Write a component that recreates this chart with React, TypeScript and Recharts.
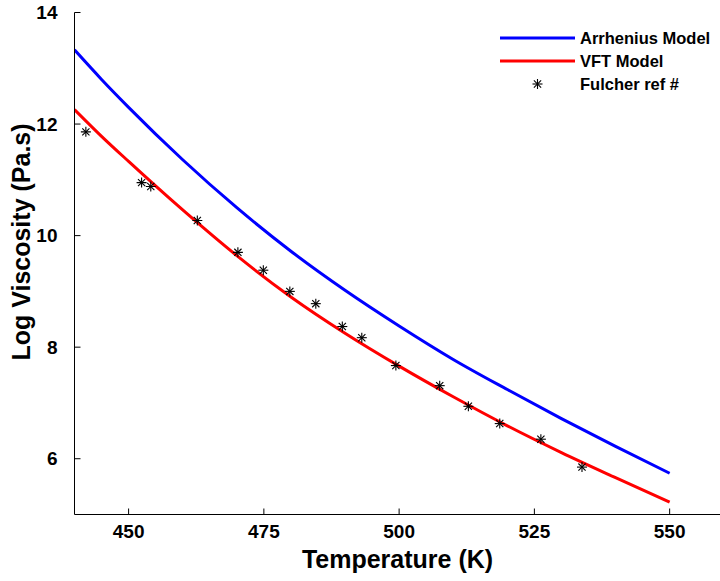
import React from 'react';
import { ComposedChart, Line, Scatter, XAxis, YAxis, Legend } from 'recharts';

const MODEL_TEMPS = [440, 445, 450, 460, 470, 480, 490, 500, 510, 520, 530, 540, 550];
const ARRHENIUS = [13.33, 12.8, 12.3, 11.36, 10.5, 9.72, 9.02, 8.38, 7.78, 7.24, 6.72, 6.22, 5.74];
const VFT = [12.26, 11.78, 11.33, 10.46, 9.64, 8.9, 8.25, 7.66, 7.11, 6.59, 6.11, 5.66, 5.22];
const FULCHER_TEMPS = [442.1, 452.4, 454.1, 462.7, 470.2, 474.9, 479.8, 484.6, 489.5, 493.1, 499.4, 507.5, 512.8, 518.6, 526.2, 533.8];
const FULCHER_LOGV = [11.86, 10.95, 10.88, 10.27, 9.7, 9.38, 9.0, 8.78, 8.37, 8.17, 7.67, 7.31, 6.94, 6.63, 6.35, 5.85];
const X_TICKS = [450, 475, 500, 525, 550];
const Y_TICKS = [6, 8, 10, 12, 14];
const X_DOMAIN = [440, 559.4];
const Y_DOMAIN = [5, 14];
const SERIES_NAMES = ['Arrhenius Model', 'VFT Model', 'Fulcher ref #'];
const SERIES_COLORS = ['#0000ff', '#ff0000', '#000000'];
const X_LABEL = 'Temperature (K)';
const Y_LABEL = 'Log Viscosity (Pa.s)';

const FONT = '"Liberation Sans", Arial, Helvetica, sans-serif';
const TICK_LEN = 6;
const X_TICK_MARGIN = 10.5;
const Y_TICK_MARGIN = 12;

const arrData = MODEL_TEMPS.map((t, i) => ({ T: t, v: ARRHENIUS[i] }));
const vftData = MODEL_TEMPS.map((t, i) => ({ T: t, v: VFT[i] }));
const fulData = FULCHER_TEMPS.map((t, i) => ({ T: t, v: FULCHER_LOGV[i] }));

const Asterisk = (props: any) => {
  const { cx, cy } = props;
  if (cx == null || cy == null) return <g />;
  const r = 5;
  const d = 3.6;
  return (
    <g stroke="#000" strokeWidth={1.1}>
      <line x1={cx - r} y1={cy} x2={cx + r} y2={cy} />
      <line x1={cx} y1={cy - r} x2={cx} y2={cy + r} />
      <line x1={cx - d} y1={cy - d} x2={cx + d} y2={cy + d} />
      <line x1={cx - d} y1={cy + d} x2={cx + d} y2={cy - d} />
    </g>
  );
};

const renderLegend = () => {
  const rows = [16, 39, 62];
  return (
    <svg width={225} height={80} style={{ display: 'block', overflow: 'visible' }}>
      {SERIES_NAMES.map((name, i) => (
        <g key={name}>
          {i < 2 ? (
            <line x1={5} x2={80} y1={rows[i]} y2={rows[i]} stroke={SERIES_COLORS[i]} strokeWidth={3} />
          ) : (
            <Asterisk cx={42.5} cy={rows[i]} />
          )}
          <text x={85} y={rows[i] + 5.8} fontFamily={FONT} fontWeight="bold" fontSize={16.5} fill="#000">
            {name}
          </text>
        </g>
      ))}
    </svg>
  );
};

const BottomTick = (p: any) => {
  const axisY = p.y - X_TICK_MARGIN;
  return (
    <g>
      <line x1={p.x} x2={p.x} y1={axisY} y2={axisY - TICK_LEN} stroke="#000" strokeWidth={1} />
      <text x={p.x} y={p.y} dy="0.71em" textAnchor="middle" fontFamily={FONT} fontWeight="bold" fontSize={19} fill="#000">
        {p.payload.value}
      </text>
    </g>
  );
};

const LeftTick = (p: any) => {
  const axisX = p.x + Y_TICK_MARGIN;
  return (
    <g>
      <line x1={axisX} x2={axisX + TICK_LEN} y1={p.y} y2={p.y} stroke="#000" strokeWidth={1} />
      <text x={p.x - 5} y={p.y} dy="0.355em" textAnchor="end" fontFamily={FONT} fontWeight="bold" fontSize={19} fill="#000">
        {p.payload.value}
      </text>
    </g>
  );
};

const TopTick = (p: any) => (
  <line x1={p.x} x2={p.x} y1={p.y} y2={p.y + TICK_LEN} stroke="#000" strokeWidth={1} />
);

const RightTick = (p: any) => (
  <line x1={p.x} x2={p.x - TICK_LEN} y1={p.y} y2={p.y} stroke="#000" strokeWidth={1} />
);

export default function App() {
  return (
    <div style={{ position: 'absolute', left: 0, top: 0, width: 720, height: 581, overflow: 'hidden', background: '#fff' }}>
      <ComposedChart width={730} height={581} margin={{ top: 12.5, right: 9.5, bottom: 0, left: 14.5 }}>
        <XAxis
          dataKey="T"
          type="number"
          domain={X_DOMAIN}
          ticks={X_TICKS}
          allowDataOverflow
          height={66.5}
          tickSize={0}
          tickMargin={X_TICK_MARGIN}
          axisLine={{ stroke: '#000', strokeWidth: 1 }}
          tickLine={false}
          tick={BottomTick}
          label={{
            content: (p: any) => {
              const vb = p.viewBox || { x: 74.5, width: 646 };
              return (
                <text x={vb.x + vb.width / 2} y={568} textAnchor="middle" fontFamily={FONT} fontWeight="bold" fontSize={25} fill="#000">
                  {X_LABEL}
                </text>
              );
            },
          }}
        />
        <XAxis
          xAxisId="top"
          orientation="top"
          type="number"
          domain={X_DOMAIN}
          ticks={X_TICKS}
          allowDataOverflow
          height={0}
          tickSize={0}
          tickMargin={0}
          axisLine={{ stroke: '#000', strokeWidth: 1 }}
          tickLine={false}
          tick={TopTick}
        />
        <YAxis
          type="number"
          domain={Y_DOMAIN}
          ticks={Y_TICKS}
          allowDataOverflow
          width={60}
          tickSize={0}
          tickMargin={Y_TICK_MARGIN}
          axisLine={{ stroke: '#000', strokeWidth: 1 }}
          tickLine={false}
          tick={LeftTick}
          label={{
            content: () => (
              <text x={30} y={242} transform="rotate(-90 30 242)" textAnchor="middle" fontFamily={FONT} fontWeight="bold" fontSize={25} fill="#000">
                {Y_LABEL}
              </text>
            ),
          }}
        />
        <YAxis
          yAxisId="right"
          orientation="right"
          type="number"
          domain={Y_DOMAIN}
          ticks={Y_TICKS}
          allowDataOverflow
          width={0}
          tickSize={0}
          tickMargin={0}
          axisLine={{ stroke: '#000', strokeWidth: 1 }}
          tickLine={false}
          tick={RightTick}
        />
        <Legend
          layout="vertical"
          align="center"
          verticalAlign="middle"
          content={renderLegend}
          wrapperStyle={{ left: 495, top: 22, width: 225, height: 80 }}
        />
        <Line
          data={arrData}
          dataKey="v"
          name={SERIES_NAMES[0]}
          type="monotone"
          stroke={SERIES_COLORS[0]}
          strokeWidth={3}
          dot={false}
          activeDot={false}
          isAnimationActive={false}
        />
        <Line
          data={vftData}
          dataKey="v"
          name={SERIES_NAMES[1]}
          type="monotone"
          stroke={SERIES_COLORS[1]}
          strokeWidth={3}
          dot={false}
          activeDot={false}
          isAnimationActive={false}
        />
        <Scatter
          data={fulData}
          dataKey="v"
          name={SERIES_NAMES[2]}
          fill="#000"
          shape={Asterisk}
          isAnimationActive={false}
        />
      </ComposedChart>
    </div>
  );
}
